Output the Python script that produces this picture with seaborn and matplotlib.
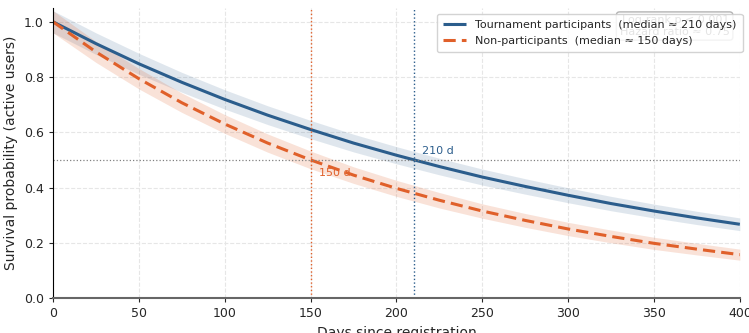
import matplotlib
matplotlib.use("Agg")
import matplotlib.pyplot as plt
import seaborn as sns
import pandas as pd

# survival values, every 25 days
days = [0, 25, 50, 75, 100, 125, 150, 175, 200, 225, 250, 275, 300, 325, 350, 375, 400]
surv_part = [1.00, 0.921, 0.848, 0.781, 0.719, 0.662, 0.610, 0.561, 0.517, 0.476, 0.438, 0.404, 0.372, 0.342, 0.315, 0.290, 0.267]
surv_non = [1.00, 0.891, 0.794, 0.707, 0.630, 0.561, 0.500, 0.445, 0.397, 0.354, 0.315, 0.281, 0.250, 0.223, 0.198, 0.177, 0.157]
lo_part = [0.96, 0.882, 0.810, 0.745, 0.684, 0.628, 0.577, 0.529, 0.486, 0.446, 0.409, 0.376, 0.345, 0.316, 0.290, 0.266, 0.244]
hi_part = [1.04, 0.960, 0.886, 0.817, 0.754, 0.696, 0.643, 0.593, 0.548, 0.506, 0.467, 0.432, 0.399, 0.368, 0.340, 0.314, 0.290]
lo_non = [0.96, 0.853, 0.757, 0.672, 0.596, 0.528, 0.468, 0.415, 0.368, 0.326, 0.289, 0.256, 0.226, 0.200, 0.176, 0.156, 0.137]
hi_non = [1.04, 0.929, 0.831, 0.742, 0.664, 0.594, 0.532, 0.475, 0.426, 0.382, 0.341, 0.306, 0.274, 0.246, 0.220, 0.198, 0.177]
median_part = 210
median_non = 150
labels = ["Tournament participants  (median ≈ 210 days)", "Non-participants  (median ≈ 150 days)"]

blue = "#2b5d8c"
orange = "#e0602a"

df = pd.DataFrame({"day": days * 2,
                   "surv": surv_part + surv_non,
                   "group": [labels[0]] * len(days) + [labels[1]] * len(days)})

sns.set_style("white")
fig = plt.figure(figsize=(7.49, 3.33), dpi=100)
ax = fig.add_axes([0.0708, 0.105, 0.917, 0.871])

ax.fill_between(days, lo_part, hi_part, color=blue, alpha=0.15, lw=0)
ax.fill_between(days, lo_non, hi_non, color=orange, alpha=0.18, lw=0)
sns.lineplot(data=df, x="day", y="surv", hue="group", style="group",
             palette=[blue, orange], dashes=[(1, 0), (4, 2)], linewidth=2.2, ax=ax)

ax.axhline(0.5, color="gray", ls=":", lw=0.9)
ax.axvline(median_part, color=blue, ls=":", lw=1)
ax.axvline(median_non, color=orange, ls=":", lw=1)
ax.text(median_part + 5, 0.52, "210 d", color=blue, fontsize=8)
ax.text(median_non + 5, 0.44, "150 d", color=orange, fontsize=8)

ax.text(0.985, 0.975, "Log-rank p < 0.001\nHazard ratio ≈ 0.75", transform=ax.transAxes,
        ha="right", va="top", fontsize=8, color="0.3",
        bbox=dict(boxstyle="round", fc="white", ec="0.7"))

ax.set_xlim(0, 400)
ax.set_ylim(0, 1.05)
ax.grid(True, ls="--", color="0.9", lw=0.8)
ax.set_xlabel("Days since registration", fontsize=10)
ax.set_ylabel("Survival probability (active users)", fontsize=10)
ax.tick_params(labelsize=9, left=True, bottom=True, length=3)
for s in ["top", "right"]:
    ax.spines[s].set_visible(False)
ax.spines["left"].set_color("black")
ax.spines["bottom"].set_color("0.4")
ax.spines["bottom"].set_linewidth(1.5)

ax.legend(loc="upper right", bbox_to_anchor=(1.012, 1.0), fontsize=8, title=None,
          framealpha=0.85, borderpad=0.6)

fig.savefig("out.png", dpi=100)
